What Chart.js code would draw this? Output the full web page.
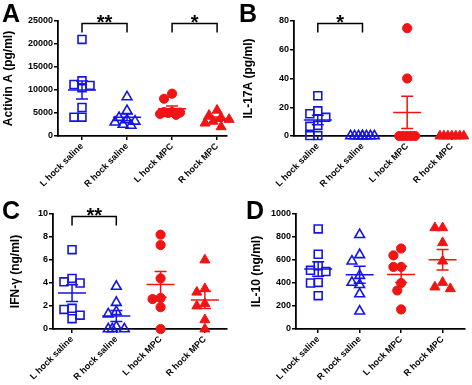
<!DOCTYPE html>
<html>
<head>
<meta charset="utf-8">
<script src="https://cdn.jsdelivr.net/npm/chart.js@4.4.1/dist/chart.umd.min.js"></script>
<style>
  body { margin: 0; background: #fff; }
  #wrap { position: relative; width: 472px; height: 385px; background: #fff; }
  canvas { position: absolute; }
</style>
</head>
<body>
<div id="wrap">
  <canvas id="panelA" width="236" height="192" style="left:0;top:0"></canvas>
  <canvas id="panelB" width="236" height="192" style="left:236px;top:0"></canvas>
  <canvas id="panelC" width="236" height="193" style="left:0;top:192px"></canvas>
  <canvas id="panelD" width="236" height="193" style="left:236px;top:192px"></canvas>
</div>
<script>
const groups = ['L hock saline', 'R hock saline', 'L hock MPC', 'R hock MPC'];

// A - Activin A (pg/ml)
const activinLSaline = [21000, 12000, 11000, 11200, 10500, 6200, 4100, 4100];
const activinRSaline = [8500, 5500, 4000, 3200, 3000, 3500, 2500, 2300];
const activinLMPC = [9200, 8100, 5200, 5000, 4800, 4600, 5100, 5200];
const activinRMPC = [5600, 4500, 4000, 3600, 3200, 2800, 2000];
const activinTicks = [0, 5000, 10000, 15000, 20000, 25000];
const activinSig = [[0, 1, '**'], [2, 3, '*']];

// B - IL-17A (pg/ml)
const il17LSaline = [28, 15.5, 17.5, 13, 7.4, 6.7, 0.3, 0.3];
const il17RSaline = [0, 0, 0, 0, 0, 0, 0, 0];
const il17LMPC = [75, 40, 0, 0, 0, 0, 0];
const il17RMPC = [0, 0, 0, 0, 0, 0, 0];
const il17Ticks = [0, 20, 40, 60, 80];
const il17Sig = [[0, 1, '*']];

// C - IFN-γ (ng/ml)
const ifnLSaline = [6.9, 4.1, 4.0, 4.4, 1.8, 1.7, 1.2, 0.9];
const ifnRSaline = [3.7, 2.3, 1.5, 1.3, 0.2, 0, 0, 0];
const ifnLMPC = [8.2, 7.3, 4.4, 2.6, 2.7, 1.9, 0];
const ifnRMPC = [6.0, 3.5, 3.2, 2.2, 2.0, 0.8, 0];
const ifnTicks = [0, 2, 4, 6, 8, 10];
const ifnSig = [[0, 1, '**']];

// D - IL-10 (ng/ml)
const il10LSaline = [870, 650, 550, 510, 500, 405, 400, 290];
const il10RSaline = [820, 645, 590, 465, 385, 405, 305, 155];
const il10LMPC = [700, 640, 540, 540, 400, 335, 170];
const il10RMPC = [880, 880, 750, 590, 405, 350, 365];
const il10Ticks = [0, 200, 400, 600, 800, 1000];
const il10Sig = [];

const BLUE = '#1414e6';
const RED = '#f01414';
const FONT = "'Liberation Sans', Arial, sans-serif";

const markers = [
  { shape: 'rect', radius: 5.6, fill: 'rgba(0,0,0,0)', color: BLUE, width: 1.6 },
  { shape: 'triangle', radius: 5.6, fill: 'rgba(0,0,0,0)', color: BLUE, width: 1.6 },
  { shape: 'circle', radius: 4.6, fill: RED, color: RED, width: 1 },
  { shape: 'triangle', radius: 5.8, fill: RED, color: RED, width: 1 }
];

// spread points sideways so that they don't sit on top of each other
function swarm(values, pxPerUnit) {
  const order = values.map((v, i) => i).sort((a, b) => values[b] - values[a]);
  const placed = [];
  const offs = new Array(values.length).fill(0);
  const cands = [0, -4, 4, -8, 8, -12, 12];
  order.forEach(i => {
    const y = values[i] * pxPerUnit;
    let best = 0, bestD = -1;
    for (const c of cands) {
      let d = Infinity;
      placed.forEach(p => { d = Math.min(d, Math.hypot(p.x - c, p.y - y)); });
      if (d >= 8) { best = c; break; }
      if (d > bestD) { bestD = d; best = c; }
    }
    placed.push({ x: best, y: y });
    offs[i] = best;
  });
  return offs;
}

const statsPlugin = {
  id: 'stats',
  afterDatasetsDraw(chart, args, opts) {
    const { ctx, chartArea } = chart;
    const x = chart.scales.x, y = chart.scales.y;
    ctx.save();
    ctx.lineWidth = 1.5;
    chart.data.datasets.forEach((ds, i) => {
      const vals = ds.values;
      const n = vals.length;
      const mean = vals.reduce((a, b) => a + b, 0) / n;
      const sd = Math.sqrt(vals.reduce((a, b) => a + (b - mean) ** 2, 0) / (n - 1));
      const sem = sd / Math.sqrt(n);
      const cx = x.getPixelForValue(i);
      const ym = y.getPixelForValue(mean);
      const yh = y.getPixelForValue(mean + sem);
      const yl = y.getPixelForValue(mean - sem);
      ctx.strokeStyle = ds.borderColor;
      ctx.beginPath();
      ctx.moveTo(cx - 14, ym); ctx.lineTo(cx + 14, ym);
      ctx.moveTo(cx, yh); ctx.lineTo(cx, yl);
      ctx.moveTo(cx - 6, yh); ctx.lineTo(cx + 6, yh);
      ctx.moveTo(cx - 6, yl); ctx.lineTo(cx + 6, yl);
      ctx.stroke();
    });
    // significance brackets
    ctx.strokeStyle = '#000';
    ctx.fillStyle = '#000';
    ctx.font = 'bold 20px ' + FONT;
    ctx.textAlign = 'center';
    ctx.textBaseline = 'alphabetic';
    const top = chartArea.top + 2.5;
    opts.sig.forEach(([a, b, label]) => {
      const xa = x.getPixelForValue(a), xb = x.getPixelForValue(b);
      ctx.beginPath();
      ctx.moveTo(xa, top + 9); ctx.lineTo(xa, top); ctx.lineTo(xb, top); ctx.lineTo(xb, top + 9);
      ctx.stroke();
      ctx.fillText(label, (xa + xb) / 2, top + 5);
    });
    // panel letter
    ctx.font = 'bold 25px ' + FONT;
    ctx.textAlign = 'left';
    ctx.fillText(opts.letter, opts.lx, opts.ly);
    ctx.restore();
  }
};

function makePanel(id, cfg) {
  const maxV = cfg.ticks[cfg.ticks.length - 1];
  const pxPerUnit = 115 / maxV;
  const tickFont = { family: FONT, size: 9, weight: 'bold' };
  const datasets = cfg.series.map((vals, i) => {
    const offs = swarm(vals, pxPerUnit);
    const m = markers[i];
    return {
      label: groups[i],
      values: vals,
      data: vals.map((v, j) => ({ x: i + offs[j] / cfg.pxPerCat, y: v })),
      pointStyle: m.shape,
      pointRadius: m.radius,
      backgroundColor: m.fill,
      borderColor: m.color,
      pointBorderWidth: m.width,
      showLine: false,
      clip: false
    };
  });
  new Chart(document.getElementById(id), {
    type: 'scatter',
    data: { datasets },
    options: {
      responsive: false,
      animation: false,
      layout: { padding: { top: cfg.top, right: cfg.right, left: 0, bottom: 0 } },
      plugins: {
        legend: { display: false },
        tooltip: { enabled: false },
        stats: { sig: cfg.sig, letter: cfg.letter, lx: cfg.lx, ly: cfg.ly }
      },
      scales: {
        x: {
          type: 'linear',
          min: cfg.xMin,
          max: cfg.xMax,
          afterBuildTicks: s => { s.ticks = groups.map((g, i) => ({ value: i })); },
          afterFit: s => { s.height = cfg.xHeight; },
          grid: { drawOnChartArea: false, tickColor: '#000', tickLength: 4, lineWidth: 1.5 },
          border: { color: '#000', width: 1.8 },
          ticks: {
            color: '#000', font: tickFont, autoSkip: false,
            maxRotation: 45, minRotation: 45, padding: 1,
            callback: v => groups[Math.round(v)]
          }
        },
        y: {
          min: 0,
          max: maxV,
          afterFit: s => { s.width = cfg.yWidth; },
          grid: { drawOnChartArea: false, tickColor: '#000', tickLength: 4, lineWidth: 1.5 },
          border: { color: '#000', width: 1.8 },
          ticks: {
            color: '#000', font: tickFont, stepSize: cfg.ticks[1] - cfg.ticks[0], padding: 1,
            callback: v => String(v)
          },
          title: {
            display: true, text: cfg.title, color: '#000',
            font: { family: FONT, size: 12, weight: 'bold' },
            padding: { top: cfg.titlePad, bottom: 0 }
          }
        }
      }
    },
    plugins: [statsPlugin]
  });
}

makePanel('panelA', {
  series: [activinLSaline, activinRSaline, activinLMPC, activinRMPC],
  ticks: activinTicks, sig: activinSig, title: 'Activin A (pg/ml)',
  letter: 'A', lx: 2, ly: 22,
  top: 21, right: 9, yWidth: 58, xHeight: 56, titlePad: 1,
  xMin: -0.533, xMax: 3.22, pxPerCat: 45
});
makePanel('panelB', {
  series: [il17LSaline, il17RSaline, il17LMPC, il17RMPC],
  ticks: il17Ticks, sig: il17Sig, title: 'IL-17A (pg/ml)',
  letter: 'B', lx: 3, ly: 22,
  top: 21, right: 6, yWidth: 58, xHeight: 56, titlePad: 5,
  xMin: -0.533, xMax: 3.29, pxPerCat: 45
});
makePanel('panelC', {
  series: [ifnLSaline, ifnRSaline, ifnLMPC, ifnRMPC],
  ticks: ifnTicks, sig: ifnSig, title: 'IFN-γ (ng/ml)',
  letter: 'C', lx: 2, ly: 27,
  top: 22, right: 9, yWidth: 53, xHeight: 56, titlePad: 8,
  xMin: -0.43, xMax: 3.5, pxPerCat: 44
});
makePanel('panelD', {
  series: [il10LSaline, il10RSaline, il10LMPC, il10RMPC],
  ticks: il10Ticks, sig: il10Sig, title: 'IL-10 (ng/ml)',
  letter: 'D', lx: 10, ly: 27,
  top: 22, right: 1, yWidth: 60, xHeight: 56, titlePad: 13,
  xMin: -0.535, xMax: 3.535, pxPerCat: 43
});
</script>
</body>
</html>
